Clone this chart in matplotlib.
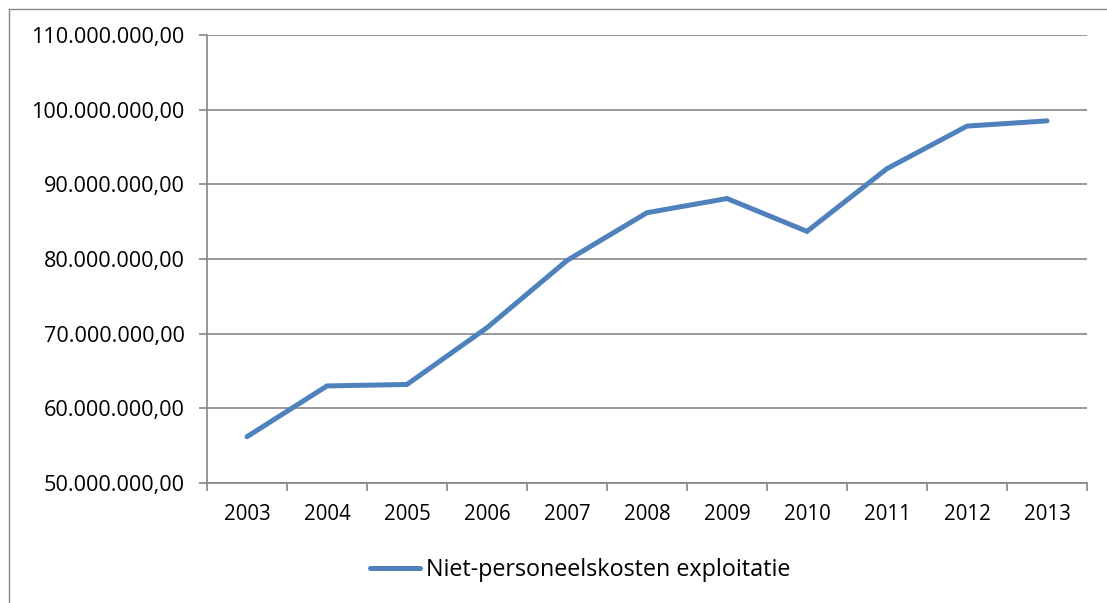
import matplotlib
matplotlib.use("Agg")
import matplotlib.pyplot as plt
from matplotlib.ticker import FuncFormatter, MultipleLocator, FixedLocator
from matplotlib.lines import Line2D

years = ["2003", "2004", "2005", "2006", "2007", "2008", "2009", "2010", "2011", "2012", "2013"]
values = [56.2e6, 63.0e6, 63.2e6, 70.8e6, 79.8e6, 86.2e6, 88.1e6, 83.7e6, 92.1e6, 97.8e6, 98.5e6]
series_name = "Niet-personeelskosten exploitatie"

plt.rcParams['font.family'] = ['Open Sans', 'DejaVu Sans']

W, H = 1107, 603
fig = plt.figure(figsize=(W / 100, H / 100), dpi=100)
ax = fig.add_axes([207 / W, 1 - 483 / H, (1087 - 207) / W, (483 - 35) / H])

grid_c = "#868686"
line_c = "#4F81BD"

x = list(range(len(years)))
ax.plot(x, values, color=line_c, lw=3.6, solid_capstyle="round", solid_joinstyle="miter",
        label=series_name, zorder=3)

ax.set_xlim(-0.5, len(years) - 0.5)
ax.set_ylim(50e6, 110e6)
ax.yaxis.set_major_locator(MultipleLocator(10e6))

def nl_fmt(v, pos):
    s = f"{v:,.2f}"
    return s.replace(",", "X").replace(".", ",").replace("X", ".")

ax.yaxis.set_major_formatter(FuncFormatter(nl_fmt))
ax.set_xticks(x)
ax.set_xticklabels(years)
ax.xaxis.set_minor_locator(FixedLocator([i - 0.5 for i in range(len(years) + 1)]))
ax.tick_params(axis="x", which="major", length=0, pad=15, labelsize=14.8, labelcolor="black")
ax.tick_params(axis="x", which="minor", length=6, width=1.2, color=grid_c)
ax.tick_params(axis="y", length=6, width=1.2, color=grid_c, pad=10, labelsize=15.6, labelcolor="black")

ax.grid(axis="y", color=grid_c, lw=1.2)
ax.set_axisbelow(True)
for s in ["top", "right"]:
    ax.spines[s].set_visible(False)
for s in ["left", "bottom"]:
    ax.spines[s].set_color(grid_c)
    ax.spines[s].set_linewidth(1.2)

leg = fig.legend(loc="center", bbox_to_anchor=(580 / W, 1 - 570 / H), frameon=False,
                 fontsize=16.8, handlelength=2.15, handletextpad=0.26)

# outer chart border
fig.add_artist(Line2D([8.5 / W, 8.5 / W], [1 - 8.5 / H, 0], transform=fig.transFigure,
                      color=grid_c, lw=1))
fig.add_artist(Line2D([8.5 / W, 1], [1 - 8.5 / H, 1 - 8.5 / H], transform=fig.transFigure,
                      color=grid_c, lw=1))

fig.savefig("out.png", dpi=100)
